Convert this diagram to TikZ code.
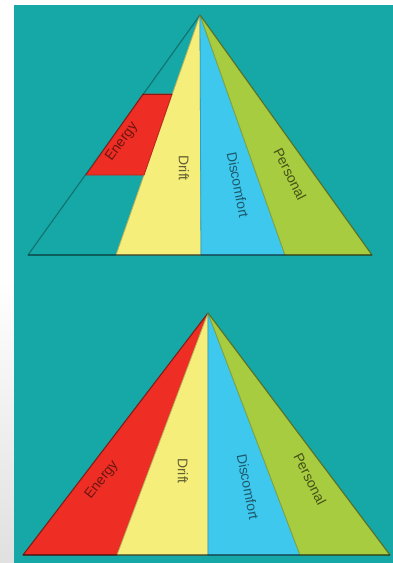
\documentclass[tikz,border=0pt]{standalone}
\usepackage{fontspec}
\setmainfont{Liberation Sans}
\usepackage{tikz}
\usetikzlibrary{positioning}

\definecolor{bgteal}{RGB}{22,168,166}
\definecolor{segred}{RGB}{238,46,36}
\definecolor{segyellow}{RGB}{246,238,122}
\definecolor{segblue}{RGB}{63,200,238}
\definecolor{seggreen}{RGB}{168,204,63}

\begin{document}
\begin{tikzpicture}[
    x=1pt, y=-1pt,
    wedge/.style={line width=0.8pt, line join=round},
    redwedge/.style={wedge, fill=segred, draw=segred!80!black},
    yellowwedge/.style={wedge, fill=segyellow, draw=segyellow!75!black},
    bluewedge/.style={wedge, fill=segblue, draw=segblue!80!black},
    greenwedge/.style={wedge, fill=seggreen, draw=seggreen!80!black},
    outline/.style={draw=black, draw opacity=0.3, line width=1.2pt, line join=round},
    baseline/.style={draw=black, draw opacity=0.3, line width=2pt},
    lbl/.style={font=\fontsize{14}{14}\selectfont, inner sep=0pt},
]

% ── Canvas : white margin + teal panel ────────────────────────────
\useasboundingbox (0,0) rectangle (393,563);
\fill[white] (0,0) rectangle (393,563);
\shade[top color=white, bottom color=black!12] (0,280) rectangle (14,563);
\fill[bgteal] (14,5) rectangle (393,563);

% ── Top pyramid  base y=255 ───────────────────────────────────────
\coordinate (tapex) at (200,15);
\coordinate (tbl)   at (28,255);
\coordinate (tbr)   at (372,255);

\filldraw[yellowwedge] (tapex) -- (116,255) -- (201,255) -- cycle;
\filldraw[bluewedge]   (tapex) -- (201,255) -- (285,255) -- cycle;
\filldraw[greenwedge]  (tapex) -- (285,255) -- (tbr) -- cycle;
% red band: strip between outer edge and yellow edge
\filldraw[redwedge] (143,94) -- (172,94) -- (144,175) -- (86,175) -- cycle;
\draw[segred!55!black, line width=1pt] (143,94) -- (172,94);
\draw[outline] (tapex) -- (tbl) -- (tbr) -- cycle;
\draw[baseline] (tbl) -- (tbr);

\node[lbl, text=segred!45!black,    rotate=54]  (tenergy)  at (122,142) {Energy};
\node[lbl, text=segyellow!40!black, rotate=-90] (tdrift)   at (184,168) {Drift};
\node[lbl, text=segblue!45!black,   rotate=-79] (tdiscom)  at (238,185) {Discomfort};
\node[lbl, text=seggreen!40!black,  rotate=-63] (tperson)  at (290,174) {Personal};

% ── Bottom pyramid  base y=555 ────────────────────────────────────
\coordinate (bapex) at (208,313);
\coordinate (bbl)   at (23,555);
\coordinate (bbr)   at (390,555);

\filldraw[redwedge]    (bapex) -- (bbl) -- (117,555) -- cycle;
\filldraw[yellowwedge] (bapex) -- (117,555) -- (208,555) -- cycle;
\filldraw[bluewedge]   (bapex) -- (208,555) -- (300,555) -- cycle;
\filldraw[greenwedge]  (bapex) -- (300,555) -- (bbr) -- cycle;
\draw[outline] (bapex) -- (bbl) -- (bbr) -- cycle;
\draw[baseline] (bbl) -- (bbr);

\node[lbl, text=segred!45!black,    rotate=52]  (benergy)  at (102,480) {Energy};
\node[lbl, text=segyellow!40!black, rotate=-90] (bdrift)   at (183,471) {Drift};
\node[lbl, text=segblue!45!black,   rotate=-79] (bdiscom)  at (248,487) {Discomfort};
\node[lbl, text=seggreen!40!black,  rotate=-63] (bperson)  at (310,479) {Personal};

\end{tikzpicture}
\end{document}
